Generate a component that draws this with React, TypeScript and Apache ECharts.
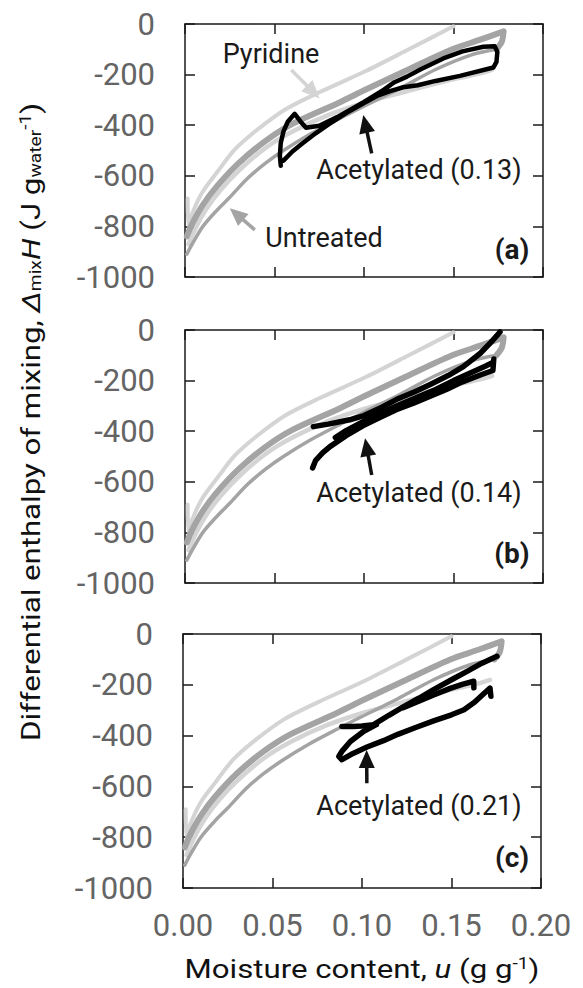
import React, { useEffect, useRef } from 'react';
import * as echarts from 'echarts';

// ---------- data ----------
const xMin = 0;
const xMax = 0.2;
const xInterval = 0.05;
const yMin = -1000;
const yMax = 0;
const yInterval = 200;

const panelLabels = ['(a)', '(b)', '(c)'];
const acetylLabels = ['Acetylated (0.13)', 'Acetylated (0.14)', 'Acetylated (0.21)'];

// Pyridine-extracted reference (light grey)
const pyridineUpper: number[][] = [
  [0.0015, -690], [0.002, -800], [0.004, -750], [0.0097, -665], [0.018, -585],
  [0.028, -495], [0.04, -420], [0.0562, -337], [0.075, -270], [0.101, -186],
  [0.125, -100], [0.15, -9],
];
const pyridineLower: number[][] = [
  [0.002, -870], [0.006, -805], [0.012, -730], [0.02, -655], [0.03, -580],
  [0.045, -490], [0.06, -425], [0.08, -360], [0.1, -312], [0.123, -268],
  [0.149, -220], [0.165, -195], [0.1715, -181],
];
// Untreated reference (medium grey)
const untreatedUpper: number[][] = [
  [0.001, -840], [0.004, -790], [0.01, -715], [0.018, -640], [0.03, -550],
  [0.045, -462], [0.06, -395], [0.086, -311], [0.101, -259], [0.123, -186],
  [0.149, -101], [0.165, -62], [0.178, -29], [0.177, -70], [0.174, -100],
];
const untreatedLower: number[][] = [
  [0.001, -910], [0.004, -870], [0.01, -800], [0.018, -735], [0.025, -685],
  [0.035, -610], [0.045, -550], [0.055, -500], [0.07, -435], [0.086, -375],
  [0.1, -325], [0.12, -255], [0.14, -180], [0.16, -122], [0.174, -100],
];

// Acetylated (0.13)
const acetylA: number[][] = [
  [0.0535, -560], [0.053, -520], [0.0535, -470], [0.055, -425], [0.0575, -385],
  [0.0613, -355], [0.0645, -385], [0.0676, -410], [0.075, -402], [0.085, -368],
  [0.1, -308], [0.11, -265], [0.117, -230], [0.124, -208], [0.132, -178],
  [0.1443, -136], [0.155, -108], [0.1667, -90], [0.173, -88], [0.1745, -110],
  [0.174, -150], [0.1723, -172], [0.1536, -205], [0.14, -225], [0.13, -242],
  [0.122, -250], [0.115, -264], [0.108, -282], [0.1, -312], [0.09, -352],
  [0.08, -398], [0.073, -432], [0.065, -475], [0.06, -504], [0.055, -540],
];
// Acetylated (0.14)
const acetylB1: number[][] = [
  [0.0717, -382], [0.08, -372], [0.092, -355], [0.1, -338], [0.11, -305],
  [0.118, -275], [0.128, -245], [0.137, -215], [0.147, -180], [0.1555, -145],
  [0.165, -92], [0.171, -48], [0.176, -8],
];
const acetylB2: number[][] = [
  [0.0713, -545], [0.073, -515], [0.077, -485], [0.081, -461], [0.09, -418],
  [0.0996, -378], [0.11, -342], [0.118, -315], [0.128, -288], [0.137, -262],
  [0.146, -235], [0.155, -205], [0.165, -178], [0.172, -160], [0.1725, -115],
];
const acetylB3: number[][] = [
  [0.084, -425], [0.09, -398], [0.1, -360], [0.11, -325], [0.12, -295],
  [0.13, -265], [0.14, -235], [0.15, -200], [0.16, -168], [0.168, -142], [0.172, -128],
];
// Acetylated (0.21)
const acetylC1: number[][] = [
  [0.0888, -364], [0.095, -364], [0.1, -362], [0.1065, -357], [0.115, -320],
  [0.123, -287], [0.132, -252], [0.14, -219], [0.15, -180], [0.1587, -147],
  [0.167, -115], [0.1754, -88],
];
const acetylC2: number[][] = [
  [0.123, -290], [0.132, -264], [0.14, -240], [0.1493, -214], [0.156, -198],
  [0.1624, -186], [0.1625, -212],
];
const acetylC3: number[][] = [
  [0.108, -357], [0.101, -383], [0.0935, -423], [0.089, -460], [0.087, -482],
  [0.0888, -495], [0.095, -470], [0.1028, -445], [0.112, -420], [0.12, -395],
  [0.13, -368], [0.14, -342], [0.15, -318], [0.157, -298], [0.163, -268],
  [0.168, -235], [0.1715, -213], [0.172, -245],
];

const acetylPanels: number[][][][] = [[acetylA], [acetylB1, acetylB2, acetylB3], [acetylC1, acetylC2, acetylC3]];

// annotation arrows (data coordinates: tail -> tip)
const pyridineArrow: number[][] = [[0.0594, -182], [0.0752, -294]];
const untreatedArrow: number[][] = [[0.039, -814], [0.025, -728]];
const acetylArrows: number[][][] = [
  [[0.1043, -511], [0.0996, -360]],
  [[0.1043, -573], [0.1006, -428]],
  [[0.1027, -588], [0.1026, -457]],
];

// ---------- styles ----------
const FONT = 'Roboto, "Noto Sans", sans-serif';
const LIGHT = '#d4d4d4';
const MID = '#a4a4a4';
const BLACK = '#000000';
const TICK_GREY = '#646464';

const grids = [
  { left: 185, top: 24, width: 358, height: 253 },
  { left: 185, top: 330, width: 358, height: 253 },
  { left: 183, top: 634, width: 358, height: 254 },
];

export default function App() {
  const ref = useRef<HTMLDivElement>(null);

  useEffect(() => {
    if (!ref.current) return;
    const chart = echarts.init(ref.current, undefined, { renderer: 'svg' });

    const axisLine = { show: true, onZero: false, lineStyle: { color: '#1a1a1a', width: 1.5 } };
    const axisTick = { show: true, inside: true, length: 10, lineStyle: { color: '#1a1a1a', width: 1.5 } };

    const xAxis: any[] = [];
    const yAxis: any[] = [];
    grids.forEach((_, i) => {
      xAxis.push({
        type: 'value', gridIndex: i, min: xMin, max: xMax, interval: xInterval, position: 'bottom',
        axisLine, axisTick, splitLine: { show: false },
        axisLabel: {
          show: i === 2, margin: 22, color: TICK_GREY, fontSize: 31, fontFamily: FONT,
          formatter: (v: number) => v.toFixed(2),
        },
      });
      xAxis.push({
        type: 'value', gridIndex: i, min: xMin, max: xMax, interval: xInterval, position: 'top',
        axisLine, axisTick, splitLine: { show: false }, axisLabel: { show: false },
      });
      yAxis.push({
        type: 'value', gridIndex: i, min: yMin, max: yMax, interval: yInterval, position: 'left',
        axisLine, axisTick, splitLine: { show: false },
        axisLabel: {
          show: true, margin: 30, color: TICK_GREY, fontSize: 31, fontFamily: FONT,
          formatter: (v: number) => String(v),
        },
      });
      yAxis.push({
        type: 'value', gridIndex: i, min: yMin, max: yMax, interval: yInterval, position: 'right',
        axisLine, axisTick, splitLine: { show: false }, axisLabel: { show: false },
      });
    });

    const series: any[] = [];
    const addLine = (i: number, data: number[][], color: string, width: number, smooth: number | boolean) => {
      series.push({
        type: 'line', xAxisIndex: i * 2, yAxisIndex: i * 2, data, showSymbol: false, symbol: 'none',
        smooth, silent: true, lineStyle: { color, width, cap: 'round', join: 'round' },
      });
    };
    grids.forEach((_, i) => {
      addLine(i, pyridineUpper, LIGHT, 4, 0.3);
      addLine(i, pyridineLower, LIGHT, 4.5, 0.3);
      addLine(i, untreatedLower, MID, 3.5, 0.3);
      addLine(i, untreatedUpper, MID, 6, 0.3);
      acetylPanels[i].forEach((d) => addLine(i, d, BLACK, i === 0 ? 4.5 : 5.5, false));
    });

    chart.setOption({
      animation: false,
      grid: grids.map((g) => ({ ...g, containLabel: false })),
      xAxis,
      yAxis,
      series,
    });

    const px = (i: number, p: number[]) => chart.convertToPixel({ gridIndex: i } as any, p) as number[];
    const arrow = (i: number, seg: number[][], color: string) => {
      const a = px(i, seg[0]);
      const b = px(i, seg[1]);
      const dx = b[0] - a[0];
      const dy = b[1] - a[1];
      const len = Math.sqrt(dx * dx + dy * dy);
      const ux = dx / len;
      const uy = dy / len;
      const L = 18;
      const W = 8;
      const bx = b[0] - ux * L;
      const by = b[1] - uy * L;
      return [
        { type: 'line', shape: { x1: a[0], y1: a[1], x2: bx + ux * 2, y2: by + uy * 2 }, style: { stroke: color, lineWidth: 3.5 }, silent: true },
        {
          type: 'polygon',
          shape: { points: [[b[0], b[1]], [bx - uy * W, by + ux * W], [bx + uy * W, by - ux * W]] },
          style: { fill: color }, silent: true,
        },
      ];
    };

    const graphics: any[] = [];
    graphics.push(...arrow(0, pyridineArrow, LIGHT));
    graphics.push(...arrow(0, untreatedArrow, MID));
    acetylArrows.forEach((seg, i) => graphics.push(...arrow(i, seg, '#111')));

    const txt = (x: number, y: number, text: string, size: number, weight = 'normal') => ({
      type: 'text', x, y, silent: true,
      style: { text, fontSize: size, fontFamily: FONT, fontWeight: weight, fill: '#1a1a1a', align: 'center', verticalAlign: 'middle' },
    });
    graphics.push(txt(271, 54, 'Pyridine', 27));
    graphics.push(txt(324, 238, 'Untreated', 27));
    const acetY = [170, 493, 806];
    const labY = [249, 553, 857];
    grids.forEach((_, i) => {
      graphics.push(txt(419, acetY[i], acetylLabels[i], 27));
      graphics.push(txt(512, labY[i], panelLabels[i], 28, 'bold'));
    });

    graphics.push({
      type: 'text', x: 31, y: 422, rotation: Math.PI / 2, scaleX: 1.2, silent: true,
      style: {
        text: '{a|Differential enthalpy of mixing, }{i|Δ}{sub|mix}{i|H}{a| (J g}{sub|water}{sup|-1}{a|)}',
        align: 'center', verticalAlign: 'middle', fill: '#111', fontSize: 26, fontFamily: FONT,
        rich: {
          a: { fontSize: 26, fontFamily: FONT, fill: '#111' },
          i: { fontSize: 26, fontFamily: FONT, fontStyle: 'italic', fill: '#111' },
          sub: { fontSize: 16, fontFamily: FONT, fill: '#111', verticalAlign: 'bottom' },
          sup: { fontSize: 16, fontFamily: FONT, fill: '#111', verticalAlign: 'top' },
        },
      },
    });
    graphics.push({
      type: 'text', x: 362, y: 969, scaleX: 1.2, silent: true,
      style: {
        text: '{a|Moisture content, }{i|u}{a| (g g}{sup|-1}{a|)}',
        align: 'center', verticalAlign: 'middle', fill: '#111', fontSize: 26, fontFamily: FONT,
        rich: {
          a: { fontSize: 26, fontFamily: FONT, fill: '#111' },
          i: { fontSize: 26, fontFamily: FONT, fontStyle: 'italic', fill: '#111' },
          sup: { fontSize: 16, fontFamily: FONT, fill: '#111', verticalAlign: 'top' },
        },
      },
    });

    chart.setOption({ graphic: graphics });

    return () => chart.dispose();
  }, []);

  return (
    <div
      ref={ref}
      style={{ position: 'fixed', left: 0, top: 0, width: 583, height: 988, background: '#ffffff' }}
    />
  );
}
